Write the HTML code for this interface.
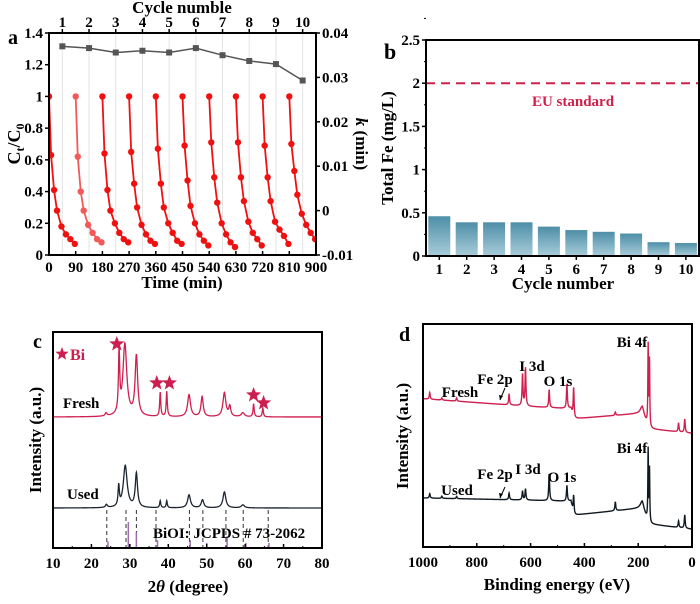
<!DOCTYPE html>
<html><head><meta charset="utf-8"><style>
html,body{margin:0;padding:0;background:#fff}
svg text{font-family:"Liberation Serif",serif;font-weight:bold}
</style></head><body>
<svg id="fig" xmlns="http://www.w3.org/2000/svg" width="700" height="599" viewBox="0 0 700 599"></svg>
<script>
// ---------- Panel a data ----------
const aCycles=[1,2,3,4,5,6,7,8,9,10];
const aK=[0.0370,0.0366,0.0356,0.0360,0.0356,0.0366,0.0350,0.0337,0.0330,0.0293];
const aTimeOffsets=[0,7,17,27,42,57,72,87];
const aCt=[
[1,0.63,0.41,0.28,0.18,0.13,0.10,0.07],
[1,0.62,0.40,0.28,0.19,0.14,0.10,0.08],
[1,0.64,0.41,0.28,0.20,0.14,0.10,0.08],
[1,0.65,0.45,0.30,0.19,0.13,0.09,0.07],
[1,0.67,0.45,0.30,0.20,0.14,0.09,0.07],
[1,0.69,0.47,0.31,0.20,0.13,0.09,0.06],
[1,0.71,0.49,0.33,0.20,0.13,0.08,0.05],
[1,0.71,0.49,0.34,0.21,0.14,0.10,0.06],
[1,0.69,0.49,0.34,0.21,0.16,0.12,0.07],
[1,0.70,0.53,0.38,0.26,0.19,0.14,0.10]];
const aXTicks=[0,90,180,270,360,450,540,630,720,810,900];
const aYTicks=[0,0.2,0.4,0.6,0.8,1,1.2,1.4];
const aKTicks=[-0.01,0,0.01,0.02,0.03,0.04];
// ---------- Panel b data ----------
const bCycles=[1,2,3,4,5,6,7,8,9,10];
const bFe=[0.46,0.39,0.39,0.39,0.34,0.30,0.28,0.26,0.16,0.15];
const bYTicks=[0,0.5,1,1.5,2,2.5];
const bLimit=2;
// ---------- Panel c data ----------
const cFreshPos=[27.2,28.7,31.7,37.9,39.6,45.4,48.8,54.6,56.0,62.2,64.6,23.8,59.4];
const cFreshH=[60,72,60,24,25,22,20,24,10,13,9,3,4];
const cFreshW=[0.2,0.6,0.4,0.17,0.17,0.45,0.35,0.45,0.3,0.17,0.17,0.3,0.5];
const cUsedPos=[27.1,28.8,31.7,37.9,39.6,45.4,48.9,54.6,23.9,59.4];
const cUsedH=[20,42,34,7,7,13,8,16,3,3];
const cUsedW=[0.2,0.6,0.35,0.17,0.17,0.45,0.4,0.45,0.3,0.5];
const cRefDashed=[24,29,31.7,36.8,45.5,49,55,59.5,66];
const cRefPos=[24.3,29.6,31.7,37.2,45.7,50,55.3,60.2,66.2];
const cRefH=[0.25,1,0.6,0.3,0.3,0.2,0.45,0.2,0.2];
const cXTicks=[10,20,30,40,50,60,70,80];
const cStars=[26.6,37.0,40.3,62.2,64.8];
const cStarOffset=[73,34,34,22,14];
// ---------- Panel d data ----------
const dFreshBaseE=[1000,600,450,440,185,160,0];
const dFreshBaseI=[66.5,63,62,57.5,60,53,51];
const dUsedBaseE=[1000,600,450,440,185,160,0];
const dUsedBaseI=[22,21,20.5,14.3,17.5,10.3,8];
const dFreshPeakE=[975,930,875,680,630,619,531,465,440,285,185,163,158,50,27];
const dFreshPeakH=[3,1,1.5,5,14,17,8,11,14,1.5,3,36,30,4,6];
const dUsedPeakE=[975,930,875,680,630,619,531,465,440,285,185,163,158,50,27];
const dUsedPeakH=[2,1,1,3,4,5,12,7,9,4,3,32,24,3,6];
const dXTicks=[1000,800,600,400,200,0];

const NS="http://www.w3.org/2000/svg";
const svg=document.getElementById('fig');
function el(tag,attrs,parent){const e=document.createElementNS(NS,tag);for(const k in attrs)e.setAttribute(k,attrs[k]);(parent||svg).appendChild(e);return e;}
function txt(s,x,y,size,attrs,parent){const t=el('text',Object.assign({x:x,y:y,'font-size':size,'text-anchor':'middle'},attrs||{}),parent);t.textContent=s;return t;}
function lin(d0,d1,r0,r1){return v=>r0+(v-d0)/(d1-d0)*(r1-r0);}
function fmt(v){return String(+v.toFixed(3)).replace(/^(-?)0\./,'$10.');}

// ================= Panel a =================
{
const g=el('g',{});


const X0=49,X1=316,Y0=255,Y1=33;
const xs=lin(0,900,X0,X1), ys=lin(0,1.4,Y0,Y1), ks=lin(-0.01,0.04,Y0,Y1);
const cx=c=>xs(45+90*(c-1));
aCycles.forEach(c=>{const l=el('line',{x1:cx(c),x2:cx(c),y1:Y1,y2:Y0,stroke:'#e4e4e4','stroke-width':1},g);
});
const clip=el('clipPath',{id:'clipA'},g);el('rect',{x:X0,y:Y1,width:X1-X0,height:Y0-Y1},clip);
const cg=el('g',{'clip-path':'url(#clipA)'},g);
aCt.forEach((vals,i)=>{
  const pts=vals.map((v,j)=>[xs(90*i+aTimeOffsets[j]),ys(v)]);
  const col=i==1?'#f25a5a':'#f01010';
  const p=el('polyline',{points:pts.map(p=>p.join(',')).join(' '),fill:'none',stroke:col,'stroke-width':1.8},cg);
  
  pts.forEach(pt=>{const c=el('circle',{cx:pt[0],cy:pt[1],r:3.2,fill:col},cg);
    });
});
const kp=aCycles.map((c,i)=>[cx(c),ks(aK[i])]);
const kl=el('polyline',{points:kp.map(p=>p.join(',')).join(' '),fill:'none',stroke:'#555','stroke-width':1.5},g);

kp.forEach(p=>{const r=el('rect',{x:p[0]-3,y:p[1]-3,width:6,height:6,fill:'#555'},g);
  });
const fr=el('rect',{x:X0,y:Y1,width:X1-X0,height:Y0-Y1,fill:'none',stroke:'#000','stroke-width':2},g);

aXTicks.forEach(t=>{el('line',{x1:xs(t),x2:xs(t),y1:Y0,y2:Y0-4,stroke:'#000','stroke-width':1.5},g);
  const tt=txt(String(t),xs(t),Y0+17,15,{},g);});
aYTicks.forEach(t=>{el('line',{x1:X0,x2:X0-4,y1:ys(t),y2:ys(t),stroke:'#000','stroke-width':1.5},g);
  const tt=txt(fmt(t),X0-6,ys(t)+5,15,{'text-anchor':'end'},g);});
aKTicks.forEach(t=>{el('line',{x1:X1,x2:X1+4,y1:ks(t),y2:ks(t),stroke:'#000','stroke-width':1.5},g);
  const tt=txt(t===0?'0':fmt(t),X1+6,ks(t)+5,15,{'text-anchor':'start'},g);});
aCycles.forEach(c=>{el('line',{x1:cx(c),x2:cx(c),y1:Y1,y2:Y1-4,stroke:'#000','stroke-width':1.5},g);
  const tt=txt(String(c),cx(c),Y1-6,15,{},g);});
let t=txt('Cycle numble',182,13,17,{},g);
t=txt('Time (min)',182,288,17,{},g);
t=el('text',{x:0,y:0,'font-size':18,'text-anchor':'middle',transform:'translate(20,144) rotate(-90)'},g);
t.innerHTML='C<tspan font-size="12" dy="4">t</tspan><tspan dy="-4">/C</tspan><tspan font-size="12" dy="4">0</tspan>';

t=el('text',{x:0,y:0,'font-size':17,'text-anchor':'middle',transform:'translate(356,144) rotate(90)'},g);
t.innerHTML='<tspan font-style="italic">k</tspan> (min)';

t=txt('a',8,44,20,{'text-anchor':'start'},g);
}

// ================= Panel b =================
{
const g=el('g',{});


const X0=426,X1=699,Y0=256,Y1=40;
const ys=lin(0,2.5,Y0,Y1);
const bx=c=>439.3+(c-1)*27.4;
const defs=el('defs',{},g);
const lg=el('linearGradient',{id:'barGrad',x1:0,y1:0,x2:0,y2:1},defs);
el('stop',{offset:0,'stop-color':'#4d8ea7'},lg);el('stop',{offset:1,'stop-color':'#a9cdda'},lg);
bCycles.forEach((c,i)=>{const r=el('rect',{x:bx(c)-11,y:ys(bFe[i]),width:22,height:Y0-ys(bFe[i]),fill:'url(#barGrad)'},g);
  });
const dl=el('line',{x1:X0,x2:X1,y1:ys(bLimit),y2:ys(bLimit),stroke:'#d0204a','stroke-width':2,'stroke-dasharray':'9,6'},g);

let t=txt('EU standard',573,106,15,{fill:'#d0204a'},g);
const fr=el('rect',{x:X0,y:Y1,width:X1-X0,height:Y0-Y1,fill:'none',stroke:'#000','stroke-width':2},g);

bYTicks.forEach(v=>{el('line',{x1:X0,x2:X0-4,y1:ys(v),y2:ys(v),stroke:'#000','stroke-width':1.5},g);
  el('line',{x1:X0,x2:X0-2,y1:ys(v+0.25),y2:ys(v+0.25),stroke:'#000','stroke-width':1},g);
  const tt=txt(fmt(v),X0-6,ys(v)+5,15,{'text-anchor':'end'},g);});
bCycles.forEach(c=>{el('line',{x1:bx(c),x2:bx(c),y1:Y0,y2:Y0+4,stroke:'#000','stroke-width':1.5},g);
  const tt=txt(String(c),bx(c),Y0+18,15,{},g);});
t=txt('Cycle number',563,289,17,{},g);
t=el('text',{x:0,y:0,'font-size':17,'text-anchor':'middle',transform:'translate(393,148) rotate(-90)'},g);t.textContent='Total Fe (mg/L)';

t=txt('b',384,59,22,{'text-anchor':'start'},g);
}

// ================= Panel c =================
function star(cx,cy,r,fill,g){const p=[];for(let i=0;i<10;i++){const a=-Math.PI/2+i*Math.PI/5,rr=i%2?r*0.42:r;p.push((cx+rr*Math.cos(a)).toFixed(1)+','+(cy+rr*Math.sin(a)).toFixed(1));}
  const s=el('polygon',{points:p.join(' '),fill:fill},g);return s;}
{
const g=el('g',{});


const X0=53,X1=322,Y0=548,Y1=332;
const xs=lin(10,80,X0,X1);
function spec(pos,H,W,base){const pts=[];for(let x=10;x<=80.001;x+=0.05){let I=0;pos.forEach((p,i)=>{const d=(x-p)/W[i];I+=H[i]/(1+d*d);});pts.push(xs(x).toFixed(2)+','+(base-I).toFixed(2));}return pts.join(' ');}
let p=el('polyline',{points:spec(cFreshPos,cFreshH,cFreshW,417),fill:'none',stroke:'#d01f4f','stroke-width':1.3},g);

p=el('polyline',{points:spec(cUsedPos,cUsedH,cUsedW,508),fill:'none',stroke:'#1c2530','stroke-width':1.3},g);

cRefDashed.forEach(v=>{const l=el('line',{x1:xs(v),x2:xs(v),y1:510,y2:548,stroke:'#333','stroke-width':1,'stroke-dasharray':'4,3'},g);
  });
cRefPos.forEach((v,i)=>{const l=el('line',{x1:xs(v),x2:xs(v),y1:Y0-cRefH[i]*26,y2:Y0,stroke:'#9b6fb0','stroke-width':1.5},g);
  });
let t=txt('BiOI: JCPDS # 73-2062',153,538,15,{'text-anchor':'start'},g);
cStars.forEach((v,i)=>star(xs(v),417-cStarOffset[i],8,'#cc1f4f',g));
const fr=el('rect',{x:X0,y:Y1,width:X1-X0,height:Y0-Y1,fill:'none',stroke:'#000','stroke-width':2},g);

cXTicks.forEach(v=>{el('line',{x1:xs(v),x2:xs(v),y1:Y0,y2:Y0-4,stroke:'#000','stroke-width':1.5},g);
  if(v<80)el('line',{x1:xs(v+5),x2:xs(v+5),y1:Y0,y2:Y0-2,stroke:'#000','stroke-width':1},g);
  const tt=txt(String(v),xs(v),Y0+20,15,{},g);});
star(62,354,7,'#cc1f4f',g);
t=txt('Bi',70,360,16,{'text-anchor':'start',fill:'#cc1f4f'},g);
t=txt('Fresh',63,408,15,{'text-anchor':'start'},g);
t=txt('Used',67,499,15,{'text-anchor':'start'},g);
t=el('text',{x:188,y:592,'font-size':17,'text-anchor':'middle'},g);t.innerHTML='2<tspan font-style="italic">θ</tspan> (degree)';

t=el('text',{x:0,y:0,'font-size':17,'text-anchor':'middle',transform:'translate(41,440) rotate(-90)'},g);t.textContent='Intensity (a.u.)';

t=txt('c',33,348,20,{'text-anchor':'start'},g);
}

// ================= Panel d =================
{
const g=el('g',{});


const X0=423,X1=692,Y0=547,Y1=324;
const xs=lin(1000,0,X0,X1), ys=lin(0,100,Y0,Y1);
function interp(E,Es,Is){for(let i=0;i<Es.length-1;i++){if(E<=Es[i]&&E>=Es[i+1]){const f=(Es[i]-E)/(Es[i]-Es[i+1]);return Is[i]+f*(Is[i+1]-Is[i]);}}return Is[Is.length-1];}
function spec(bE,bI,pE,pH){const pts=[];for(let E=1000;E>=0;E-=0.5){let I=interp(E,bE,bI);pE.forEach((p,i)=>{const w=(p>150&&p<170)?1.3:(p==185?8:2);const d=(E-p)/w;I+=pH[i]/(1+d*d);});pts.push(xs(E).toFixed(2)+','+ys(I).toFixed(2));}return pts.join(' ');}
let p=el('polyline',{points:spec(dFreshBaseE,dFreshBaseI,dFreshPeakE,dFreshPeakH),fill:'none',stroke:'#d01f4f','stroke-width':1.4},g);

p=el('polyline',{points:spec(dUsedBaseE,dUsedBaseI,dUsedPeakE,dUsedPeakH),fill:'none',stroke:'#101820','stroke-width':1.4},g);

const fr=el('rect',{x:X0,y:Y1,width:X1-X0,height:Y0-Y1,fill:'none',stroke:'#000','stroke-width':2},g);

dXTicks.forEach(v=>{el('line',{x1:xs(v),x2:xs(v),y1:Y0,y2:Y0-4,stroke:'#000','stroke-width':1.5},g);
  if(v>0)el('line',{x1:xs(v-100),x2:xs(v-100),y1:Y0,y2:Y0-2,stroke:'#000','stroke-width':1},g);
  const tt=txt(String(v),xs(v),Y0+20,15,{},g);});
const labels=[['Bi 4f',632,347,'bi-4f-fresh'],['I 3d',532,371,'i-3d-fresh'],['Fe 2p',495,384,'fe-2p-fresh'],['O 1s',558,386,'o-1s-fresh'],['Fresh',460,397,'fresh-label'],
['Bi 4f',632,453,'bi-4f-used'],['I 3d',528,474,'i-3d-used'],['Fe 2p',495,479,'fe-2p-used'],['O 1s',562,482,'o-1s-used'],['Used',457,495,'used-label']];
labels.forEach(l=>{const t=txt(l[0],l[1],l[2],15,{},g);});
[[505,388,500,400],[505,487,500,498]].forEach(a=>{const l=el('line',{x1:a[0],y1:a[1],x2:a[2],y2:a[3],stroke:'#000','stroke-width':1},g);
  
  el('polygon',{points:`${a[2]},${a[3]} ${a[2]-1},${a[3]-5} ${a[2]+3},${a[3]-4}`,fill:'#000'},g);});
let t=txt('Binding energy (eV)',557,590,17,{},g);
t=el('text',{x:0,y:0,'font-size':17,'text-anchor':'middle',transform:'translate(408,436) rotate(-90)'},g);t.textContent='Intensity (a.u.)';

t=txt('d',399,341,20,{'text-anchor':'start'},g);
}
</script>
</body></html>
